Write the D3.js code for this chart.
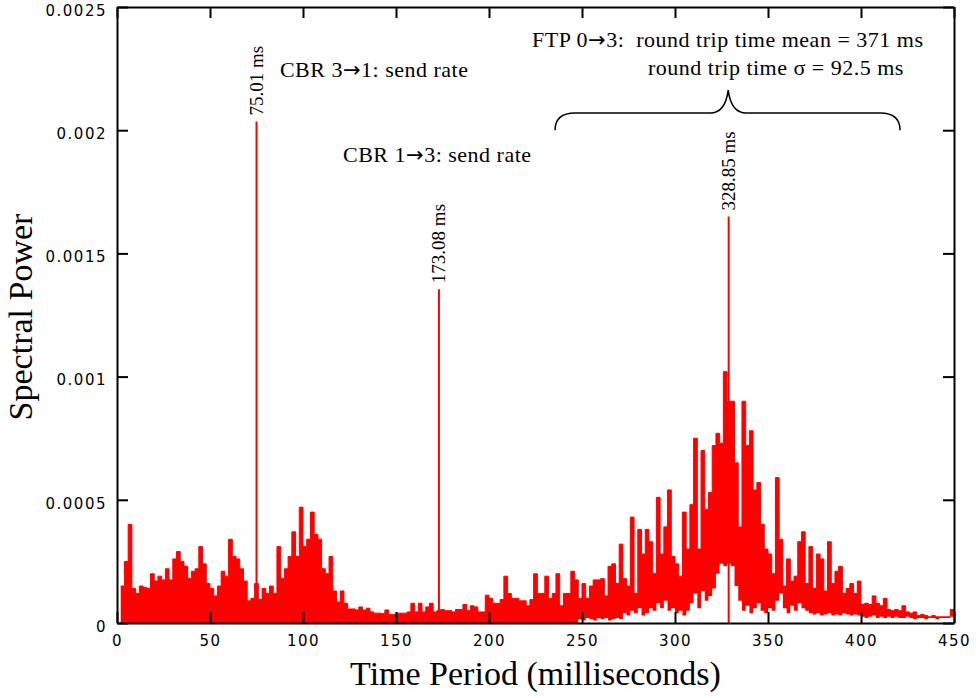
<!DOCTYPE html>
<html>
<head>
<meta charset="utf-8">
<script src="https://cdn.jsdelivr.net/npm/d3@7"></script>
<style>
  body { margin: 0; background: #fff; }
  svg { display: block; }
  .tick text { font-family: "DejaVu Sans", sans-serif; font-size: 15px; letter-spacing: 1.5px; fill: #000; }
  .serif { font-family: "Liberation Serif", "Times New Roman", serif; fill: #000; }
  .arrow { font-family: "DejaVu Sans", sans-serif; }
</style>
</head>
<body>
<svg id="chart"></svg>
<script>
// Spectral power (units of 1e-4) per 2 ms time-period bin, starting at 0 ms
const binStart = 0;
const binStep = 2;
const powerHigh = [
  0, 1.5, 2.5, 4.0, 1.4, 1.2, 1.5, 1.45, 1.4, 2.0,
  1.7, 1.9, 1.75, 2.2, 1.75, 2.6, 2.9, 2.5, 2.3, 1.8,
  2.1, 2.2, 3.1, 2.4, 1.6, 1.4, 1.1, 1.5, 2.1, 1.9,
  3.4, 2.7, 2.6, 2.2, 1.7, 0.9, 1.0, 1.6, 0.95, 1.4,
  1.2, 1.5, 1.2, 3.1, 1.8, 2.2, 2.7, 3.7, 2.7, 4.7,
  3.1, 3.4, 4.5, 3.6, 3.4, 2.2, 2.0, 2.7, 1.3, 0.85,
  1.3, 0.8, 0.57, 0.57, 0.53, 0.65, 0.53, 0.6, 0.45, 0.4,
  0.4, 0.38, 0.53, 0.35, 0.35, 0.4, 0.4, 0.4, 0.45, 0.8,
  0.45, 0.8, 0.45, 0.65, 0.8, 0.45, 0.5, 0.55, 0.5, 0.5,
  0.45, 0.55, 0.55, 0.75, 0.5, 0.7, 0.65, 0.45, 0.45, 1.13,
  1.0, 0.8, 0.8, 0.95, 1.9, 1.2, 1.0, 1.0, 0.9, 0.9,
  0.7, 0.95, 2.0, 1.2, 1.2, 1.9, 1.0, 1.2, 2.0, 0.7,
  1.2, 1.2, 2.1, 1.75, 1.0, 1.6, 1.0, 1.5, 1.75, 1.75,
  1.8, 1.1, 2.3, 2.4, 1.6, 3.2, 1.8, 1.5, 4.3, 1.2,
  3.8, 2.8, 3.8, 3.3, 2.0, 5.1, 2.8, 3.9, 5.4, 2.7,
  2.4, 1.9, 4.5, 3.0, 4.8, 7.5, 3.0, 7.0, 4.6, 5.3,
  7.2, 7.7, 7.3, 10.2, 9.0, 9.0, 6.5, 3.9, 9.0, 7.2,
  7.8, 5.4, 5.7, 4.0, 3.0, 2.8, 2.0, 5.9, 3.4, 1.5,
  2.6, 1.7, 1.9, 3.3, 3.7, 1.6, 3.1, 1.4, 2.8, 2.6,
  1.3, 3.3, 1.6, 2.1, 2.3, 1.2, 1.4, 1.6, 1.2, 1.7,
  0.75, 0.8, 0.75, 1.1, 0.8, 0.7, 1.0, 0.55, 0.5, 0.55,
  0.5, 0.7, 0.45, 0.4, 0.45, 0.3, 0.35, 0.3, 0.25, 0.3,
  0.25, 0.25, 0.25, 0.25, 0.55
];

// lower edge of the oscillation (units of 1e-4), from 248 ms on; 0 before that
const floorStart = 248;
const powerLow = [
  0.15, 0.1, 0.2, 0.15, 0.1, 0.2, 0.15, 0.2, 0.1, 0.15, 0.2, 0.15,
  0.4, 0.3, 0.5, 0.4, 0.6, 0.3, 0.4,
  0.6, 0.5, 0.8, 0.6, 0.9, 0.5, 0.6,
  0.4, 0.5, 0.3, 0.5,
  0.8, 1.2, 0.6, 1.3, 0.9, 1.1, 1.4,
  2.0, 2.4, 2.3, 2.4, 2.3, 1.5, 0.9,
  0.5, 0.7, 0.4, 0.6, 0.8, 0.5, 0.4, 0.6,
  0.5, 0.9, 1.2, 0.6, 0.4, 0.7, 0.5, 0.8, 0.6, 0.5, 0.4,
  0.35, 0.4, 0.3, 0.35, 0.4, 0.3, 0.35, 0.3, 0.4, 0.35, 0.3, 0.35, 0.3,
  0.25, 0.2, 0.25, 0.3, 0.2, 0.25, 0.2, 0.25, 0.2, 0.25, 0.2, 0.2, 0.25,
  0.2, 0.15, 0.2, 0.2, 0.15, 0.2, 0.2, 0.15, 0.2, 0.2, 0.2, 0.25
];

// narrow peaks
const peakTimes = [75.01, 173.08, 328.85];
const peakPowers = [0.002035, 0.001355, 0.00165];
const peakLabels = ["75.01 ms", "173.08 ms", "328.85 ms"];

const xTicks = [0, 50, 100, 150, 200, 250, 300, 350, 400, 450];
const yTicks = [0, 0.0005, 0.001, 0.0015, 0.002, 0.0025];

// annotations placed in data coordinates (ms, power); "→" is split out for its own font
const notes = [
  { t: 87.6, p: 0.002216, parts: ["CBR 3", "\u2192", "1: send rate"] },
  { t: 121.5, p: 0.001871, parts: ["CBR 1", "\u2192", "3: send rate"] },
  { t: 223.1, p: 0.002338, parts: ["FTP 0", "\u2192", "3:\u00a0 round trip time mean = 371 ms"] },
  { t: 285.5, p: 0.002224, parts: ["round trip time \u03c3 = 92.5 ms"] }
];
const braceRange = [235.5, 328.6, 421];
const braceLevels = [0.0020, 0.00207, 0.002163];

const width = 976, height = 698;
const margin = { top: 7, right: 22, bottom: 75, left: 117 };

const svg = d3.select("#chart").attr("width", width).attr("height", height);

const x = d3.scaleLinear().domain([0, 450]).range([margin.left, width - margin.right]);
const y = d3.scaleLinear().domain([0, 0.0025]).range([height - margin.bottom, margin.top]);

const data = powerHigh.map((v, i) => {
  const t = binStart + i * binStep;
  const j = (t - floorStart) / binStep;
  const lo = j >= 0 && j < powerLow.length ? powerLow[j] : 0;
  return { t: t, hi: v * 1e-4, lo: Math.min(lo, v) * 1e-4 };
});
// close the last step at the axis end
data.push({ t: 450, hi: data[data.length - 1].hi, lo: data[data.length - 1].lo });

const red = "#ff0000";

svg.append("path")
  .datum(data)
  .attr("fill", red)
  .attr("d", d3.area()
    .curve(d3.curveStepAfter)
    .x(d => x(d.t))
    .y0(d => y(d.lo))
    .y1(d => y(d.hi)));

svg.append("path")
  .datum(data.filter(d => d.t > 0))
  .attr("fill", "none")
  .attr("stroke", red)
  .attr("stroke-width", 1)
  .attr("d", d3.line()
    .curve(d3.curveStepAfter)
    .x(d => x(d.t))
    .y(d => y(d.hi)));

// peaks
svg.selectAll(".peak")
  .data(peakTimes)
  .enter()
  .append("line")
  .attr("x1", d => x(d))
  .attr("x2", d => x(d))
  .attr("y1", y(0))
  .attr("y2", (d, i) => y(peakPowers[i]))
  .attr("stroke", red)
  .attr("stroke-width", 2);

svg.selectAll(".peak-label")
  .data(peakTimes)
  .enter()
  .append("text")
  .attr("class", "serif")
  .attr("font-size", 19)
  .attr("transform", (d, i) => `translate(${x(d) + 6},${y(peakPowers[i]) - 6}) rotate(-90)`)
  .text((d, i) => peakLabels[i]);

// axes, ticks pointing inward on all sides
const tick = 11;
svg.append("g")
  .attr("transform", `translate(0,${y(0)})`)
  .call(d3.axisBottom(x).tickValues(xTicks).tickSizeInner(-tick).tickSizeOuter(0).tickPadding(12));
svg.append("g")
  .attr("transform", `translate(0,${y(0.0025)})`)
  .call(d3.axisTop(x).tickValues(xTicks).tickSizeInner(-tick).tickSizeOuter(0).tickFormat(""));
svg.append("g")
  .attr("class", "y-left")
  .attr("transform", `translate(${x(0)},0)`)
  .call(d3.axisLeft(y).tickValues(yTicks).tickSizeInner(-tick).tickSizeOuter(0).tickPadding(10)
    .tickFormat(d3.format("")));
svg.select(".y-left").selectAll(".tick text").attr("dy", "0.55em");
svg.append("g")
  .attr("transform", `translate(${x(450)},0)`)
  .call(d3.axisRight(y).tickValues(yTicks).tickSizeInner(-tick).tickSizeOuter(0).tickFormat(""));

svg.selectAll(".domain").attr("stroke", "#000").attr("stroke-width", 2);
svg.selectAll(".tick line").attr("stroke", "#000").attr("stroke-width", 2);

// axis titles
svg.append("text")
  .attr("class", "serif")
  .attr("font-size", 34)
  .attr("text-anchor", "middle")
  .attr("x", (x(0) + x(450)) / 2)
  .attr("y", 685)
  .text("Time Period (milliseconds)");

svg.append("text")
  .attr("class", "serif")
  .attr("font-size", 34)
  .attr("text-anchor", "middle")
  .attr("transform", `translate(32,${(y(0) + y(0.0025)) / 2 + 2}) rotate(-90)`)
  .text("Spectral Power");

// annotations
const noteText = svg.selectAll(".note")
  .data(notes)
  .enter()
  .append("text")
  .attr("class", "serif")
  .attr("font-size", 22)
  .attr("letter-spacing", 0.5)
  .attr("x", d => x(d.t))
  .attr("y", d => y(d.p));

noteText.selectAll("tspan")
  .data(d => d.parts)
  .enter()
  .append("tspan")
  .attr("class", s => s === "\u2192" ? "arrow" : null)
  .attr("font-size", s => s === "\u2192" ? 21 : null)
  .text(s => s);

// curly brace over the FTP cluster
const bx0 = x(braceRange[0]), bxt = x(braceRange[1]), bx1 = x(braceRange[2]);
const byEnd = y(braceLevels[0]), bySh = y(braceLevels[1]), byTip = y(braceLevels[2]);
const brace = d3.path();
brace.moveTo(bx0, byEnd);
brace.quadraticCurveTo(bx0, bySh, bx0 + 20, bySh);
brace.lineTo(bxt - 18, bySh);
brace.quadraticCurveTo(bxt - 3, bySh, bxt, byTip);
brace.quadraticCurveTo(bxt + 3, bySh, bxt + 18, bySh);
brace.lineTo(bx1 - 20, bySh);
brace.quadraticCurveTo(bx1, bySh, bx1, byEnd);
svg.append("path")
  .attr("d", brace.toString())
  .attr("fill", "none")
  .attr("stroke", "#000")
  .attr("stroke-width", 1.5);
</script>
</body>
</html>
